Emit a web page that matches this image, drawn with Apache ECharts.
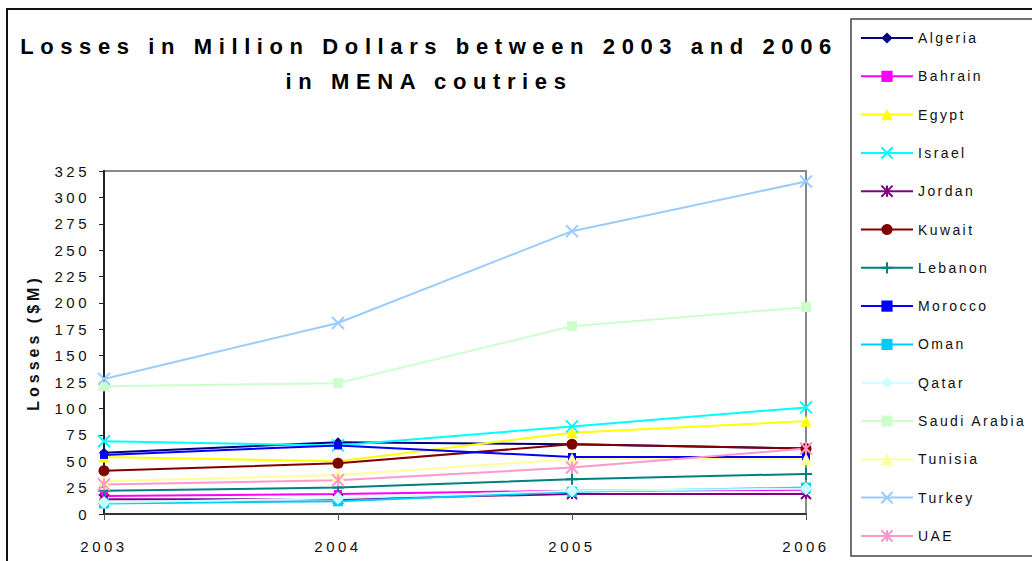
<!DOCTYPE html>
<html>
<head>
<meta charset="utf-8">
<title>Losses in MENA countries</title>
<script src="https://cdn.jsdelivr.net/npm/echarts@6/dist/echarts.min.js"></script>
<style>
  html, body { margin: 0; padding: 0; background: #fff; }
  #chart { width: 1032px; height: 561px; }
  /* the original chart uses wide character spacing everywhere */
  #chart text { letter-spacing: 2.4px; }
  #chart text[style*="15px"] { letter-spacing: 3.5px; }
  #chart text[style*="16px"] { letter-spacing: 4px; }
  #chart text[style*="22px"] { letter-spacing: 6.6px; }
</style>
</head>
<body>
<div id="chart"></div>
<script>
  // data
  const years = ['2003', '2004', '2005', '2006']
  const yTicks = { min: 0, max: 325, step: 25 }

  const countries = ['Algeria', 'Bahrain', 'Egypt', 'Israel', 'Jordan', 'Kuwait', 'Lebanon',
    'Morocco', 'Oman', 'Qatar', 'Saudi Arabia', 'Tunisia', 'Turkey', 'UAE']

  const algeria = [58, 68, 66, 62]
  const bahrain = [17, 19, 22, 23]
  const egypt = [54, 50, 77, 88]
  const israel = [69, 65, 83, 101]
  const jordan = [14, 14, 19, 19]
  const kuwait = [41, 48, 66, 62]
  const lebanon = [22, 25, 33, 38]
  const morocco = [56, 65, 54, 54]
  const oman = [10, 12, 21, 25]
  const qatar = [11, 15, 22, 24]
  const saudiArabia = [121, 124, 178, 196]
  const tunisia = [31, 37, 52, 52]
  const turkey = [128, 181, 268, 315]
  const uae = [28, 32, 44, 62]

  const values = [algeria, bahrain, egypt, israel, jordan, kuwait, lebanon,
    morocco, oman, qatar, saudiArabia, tunisia, turkey, uae]

  // marker shapes
  const X_MARK = 'path://M0,0L10,10M10,0L0,10'
  const STAR_MARK = 'path://M0,0L10,10M10,0L0,10M5,0L5,10'
  const PLUS_MARK = 'path://M5,0L5,10M0,5L10,5'
  const DASH_MARK = 'path://M0,4L10,4L10,6L0,6Z'

  const looks = [
    { color: '#000080', symbol: 'diamond', size: 10 },
    { color: '#FF00FF', symbol: 'rect', size: 8 },
    { color: '#FFFF00', symbol: 'triangle', size: 11 },
    { color: '#00FFFF', symbol: X_MARK, size: 12, stroke: true },
    { color: '#800080', symbol: STAR_MARK, size: 10, stroke: true },
    { color: '#800000', symbol: 'circle', size: 11 },
    { color: '#008080', symbol: PLUS_MARK, size: 12, stroke: true },
    { color: '#0000FF', symbol: DASH_MARK, size: 8 },
    { color: '#00CCFF', symbol: DASH_MARK, size: 10 },
    { color: '#CCFFFF', symbol: 'diamond', size: 13 },
    { color: '#CCFFCC', symbol: 'rect', size: 10 },
    { color: '#FFFF99', symbol: 'triangle', size: 12 },
    { color: '#99CCFF', symbol: X_MARK, size: 12, stroke: true },
    { color: '#FF99CC', symbol: STAR_MARK, size: 12, stroke: true }
  ]

  const FONT = '"Liberation Sans", Arial, sans-serif'

  const chart = echarts.init(document.getElementById('chart'), null, { renderer: 'svg' })

  chart.setOption({
    backgroundColor: '#fff',
    animation: false,
    title: {
      text: 'Losses in Million Dollars between 2003 and 2006\nin MENA coutries',
      left: 424,
      top: 24,
      textAlign: 'center',
      textStyle: {
        fontFamily: FONT,
        fontSize: 22,
        fontWeight: 'bold',
        lineHeight: 35,
        color: '#000'
      }
    },
    legend: {
      orient: 'vertical',
      left: 860,
      top: 31,
      padding: 0,
      itemWidth: 52,
      itemHeight: 14,
      itemGap: 24.3,
      data: countries,
      textStyle: {
        fontFamily: FONT,
        fontSize: 14,
        color: '#111'
      }
    },
    grid: {
      left: 104,
      right: 226,
      top: 171,
      bottom: 47,
      show: true,
      borderColor: '#888',
      borderWidth: 2,
      outerBoundsMode: 'none'
    },
    xAxis: {
      type: 'category',
      boundaryGap: false,
      data: years,
      axisLine: { show: true, lineStyle: { color: '#333', width: 2 } },
      axisTick: { show: true, length: 6, lineStyle: { color: '#555' } },
      axisLabel: { margin: 25, fontFamily: FONT, fontSize: 15, color: '#111' },
      splitLine: { show: false }
    },
    yAxis: {
      type: 'value',
      min: yTicks.min,
      max: yTicks.max,
      interval: yTicks.step,
      name: 'Losses ($M)',
      nameLocation: 'middle',
      nameGap: 63,
      nameTextStyle: { fontFamily: FONT, fontSize: 16, fontWeight: 'bold', color: '#111' },
      axisLine: { show: true, lineStyle: { color: '#222', width: 2 } },
      axisTick: { show: true, length: 5, lineStyle: { color: '#222' } },
      axisLabel: { margin: 14, fontFamily: FONT, fontSize: 15, color: '#111' },
      splitLine: { show: false }
    },
    graphic: [
      {
        type: 'polyline',
        silent: true,
        shape: { points: [[7, 561], [7, 9], [1032, 9]] },
        style: { stroke: '#111', lineWidth: 2, fill: null }
      },
      {
        type: 'rect',
        silent: true,
        shape: { x: 851, y: 19, width: 200, height: 537 },
        style: { stroke: '#444', lineWidth: 1.5, fill: null }
      }
    ],
    series: countries.map(function (name, i) {
      const look = looks[i]
      return {
        name: name,
        type: 'line',
        data: values[i],
        symbol: look.symbol,
        symbolSize: look.size,
        showAllSymbol: true,
        lineStyle: { color: look.color, width: 2 },
        itemStyle: look.stroke
          ? { color: look.color, borderColor: look.color, borderWidth: 2 }
          : { color: look.color, borderWidth: 0 },
        emphasis: { disabled: true }
      }
    })
  })
</script>
</body>
</html>
